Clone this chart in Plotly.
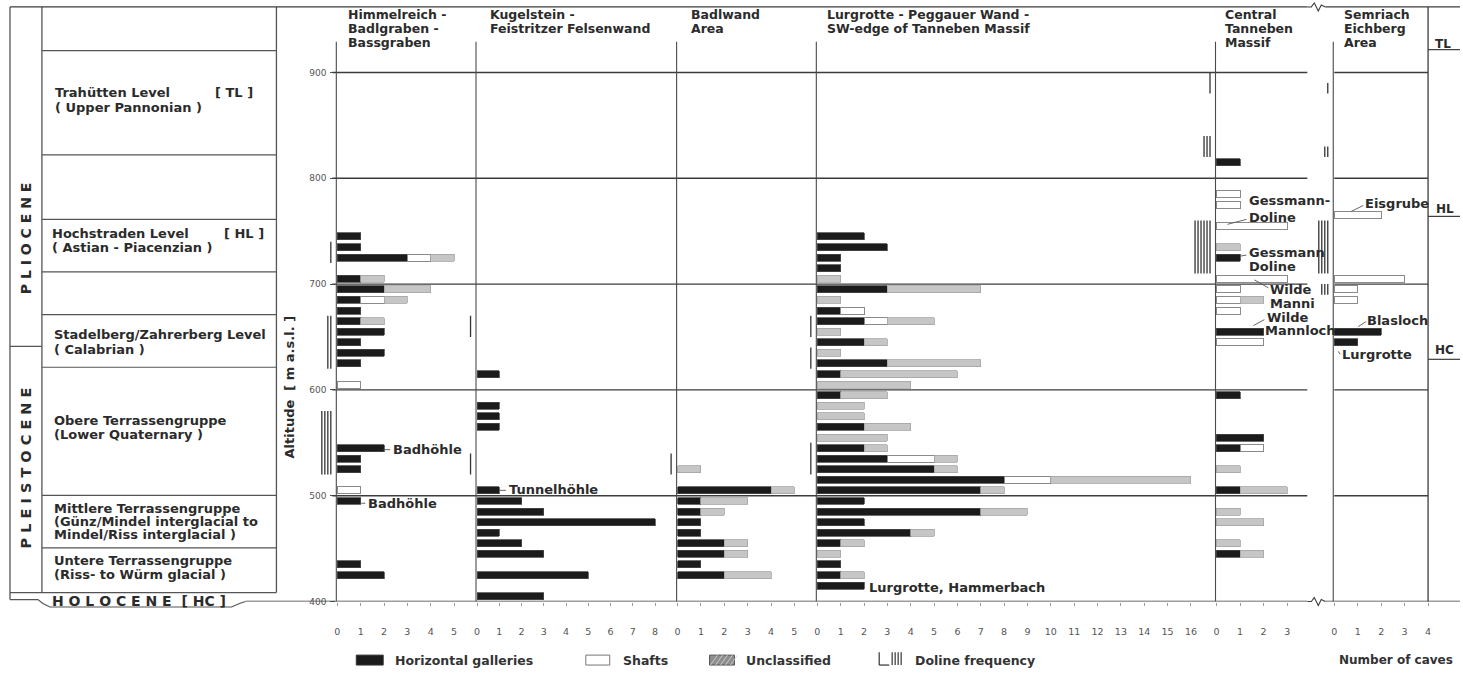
import plotly.graph_objects as go

W, H = 1463, 676

# ---------------- data (altitude bins in m a.s.l., numbers of caves) ----------------
alt_ticks = [400, 500, 600, 700, 800, 900]

himmel_alt = [745, 735, 725, 705, 695, 685, 675, 665, 655, 645, 635, 625, 605, 545, 535, 525, 505, 495, 435, 425]
himmel_hor = [1, 1, 3, 1, 2, 1, 1, 1, 2, 1, 2, 1, 0, 2, 1, 1, 0, 1, 1, 2]
himmel_sha = [0, 0, 1, 0, 0, 1, 0, 0, 0, 0, 0, 0, 1, 0, 0, 0, 1, 0, 0, 0]
himmel_unc = [0, 0, 1, 1, 2, 1, 0, 1, 0, 0, 0, 0, 0, 0, 0, 0, 0, 0, 0, 0]
himmel_dol_top = [740, 670, 580]
himmel_dol_bot = [720, 620, 520]
himmel_dol_n = [1, 2, 4]

kugel_alt = [615, 585, 575, 565, 505, 495, 485, 475, 465, 455, 445, 425, 405]
kugel_hor = [1, 1, 1, 1, 1, 2, 3, 8, 1, 2, 3, 5, 3]
kugel_sha = [0, 0, 0, 0, 0, 0, 0, 0, 0, 0, 0, 0, 0]
kugel_unc = [0, 0, 0, 0, 0, 0, 0, 0, 0, 0, 0, 0, 0]
kugel_dol_top = [670, 540]
kugel_dol_bot = [650, 520]
kugel_dol_n = [1, 1]

badl_alt = [525, 505, 495, 485, 475, 465, 455, 445, 435, 425]
badl_hor = [0, 4, 1, 1, 1, 1, 2, 2, 1, 2]
badl_sha = [0, 0, 0, 0, 0, 0, 0, 0, 0, 0]
badl_unc = [1, 1, 2, 1, 0, 0, 1, 1, 0, 2]
badl_dol_top = [540]
badl_dol_bot = [520]
badl_dol_n = [1]

lur_alt = [745, 735, 725, 715, 705, 695, 685, 675, 665, 655, 645, 635, 625, 615, 605, 595, 585,
           575, 565, 555, 545, 535, 525, 515, 505, 495, 485, 475, 465, 455, 445, 435, 425, 415]
lur_hor = [2, 3, 1, 1, 0, 3, 0, 1, 2, 0, 2, 0, 3, 1, 0, 1, 0,
           0, 2, 0, 2, 3, 5, 8, 7, 2, 7, 2, 4, 1, 0, 1, 1, 2]
lur_sha = [0, 0, 0, 0, 0, 0, 0, 1, 1, 0, 0, 0, 0, 0, 0, 0, 0,
           0, 0, 0, 0, 2, 0, 2, 0, 0, 0, 0, 0, 0, 0, 0, 0, 0]
lur_unc = [0, 0, 0, 0, 1, 4, 1, 0, 2, 1, 1, 1, 4, 5, 4, 2, 2,
           2, 2, 3, 1, 1, 1, 6, 1, 0, 2, 0, 1, 1, 1, 0, 1, 0]
lur_dol_top = [670, 640, 550]
lur_dol_bot = [650, 620, 520]
lur_dol_n = [1, 1, 1]

cen_alt = [815, 785, 775, 755, 735, 725, 705, 695, 685, 675, 655, 645, 595, 555, 545, 525, 505, 485, 475, 455, 445]
cen_hor = [1, 0, 0, 0, 0, 1, 0, 0, 0, 0, 2, 0, 1, 2, 1, 0, 1, 0, 0, 0, 1]
cen_sha = [0, 1, 1, 3, 0, 0, 3, 1, 1, 1, 0, 2, 0, 0, 1, 0, 0, 0, 0, 0, 0]
cen_unc = [0, 0, 0, 0, 1, 0, 0, 0, 1, 0, 0, 0, 0, 0, 0, 1, 2, 1, 2, 1, 1]
cen_dol_top = [900, 840, 760]
cen_dol_bot = [880, 820, 710]
cen_dol_n = [1, 3, 6]

sem_alt = [765, 705, 695, 685, 655, 645]
sem_hor = [0, 0, 0, 0, 2, 1]
sem_sha = [2, 3, 1, 1, 0, 0]
sem_unc = [0, 0, 0, 0, 0, 0]
sem_dol_top = [890, 830, 760, 700]
sem_dol_bot = [880, 820, 710, 690]
sem_dol_n = [1, 2, 4, 3]

panel_titles = [
    ["Himmelreich -", "Badlgraben -", "Bassgraben"],
    ["Kugelstein -", "Feistritzer Felsenwand"],
    ["Badlwand", "Area"],
    ["Lurgrotte - Peggauer Wand -", "SW-edge of Tanneben Massif"],
    ["Central", "Tanneben", "Massif"],
    ["Semriach", "Eichberg", "Area"],
]
panel_tick_max = [5, 8, 5, 16, 3, 4]

panels = [
    (himmel_alt, himmel_hor, himmel_sha, himmel_unc, himmel_dol_top, himmel_dol_bot, himmel_dol_n),
    (kugel_alt, kugel_hor, kugel_sha, kugel_unc, kugel_dol_top, kugel_dol_bot, kugel_dol_n),
    (badl_alt, badl_hor, badl_sha, badl_unc, badl_dol_top, badl_dol_bot, badl_dol_n),
    (lur_alt, lur_hor, lur_sha, lur_unc, lur_dol_top, lur_dol_bot, lur_dol_n),
    (cen_alt, cen_hor, cen_sha, cen_unc, cen_dol_top, cen_dol_bot, cen_dol_n),
    (sem_alt, sem_hor, sem_sha, sem_unc, sem_dol_top, sem_dol_bot, sem_dol_n),
]

# ---------------- layout geometry (pixels) ----------------
ZERO_PX = [338, 478, 679, 819, 1219, 1337]
UNIT_PX = [23.4, 22.3, 23.4, 23.4, 23.6, 23.5]
X_LO = [-1.0, -0.6, -0.6, -0.6, -1.0, -0.9]
X_HI = [6.0, 9.0, 6.0, 17.09, 4.2, 4.0]
PY_400 = 606.0
PX_PER_M = 1.066
PY_TOP = 8.0
ALT_TOP = 400 + (PY_400 - PY_TOP) / PX_PER_M

FONT = "DejaVu Sans"
INK = "#2b2b2b"
LINE = "#3c3c3c"


def xp(px):
    return px / W


def yp(py):
    return 1 - py / H


def alt_of(py):
    return 400 + (PY_400 - py) / PX_PER_M


fig = go.Figure()

# ---------------- bars and doline marks ----------------
for i, (alt, hor, sha, unc, dtop, dbot, dn) in enumerate(panels):
    xa = "x" if i == 0 else f"x{i + 1}"
    series = [
        (hor, dict(color="#1b1b1b", line=dict(color="#4a4a4a", width=0.8))),
        (sha, dict(color="#ffffff", line=dict(color="#8a8a8a", width=1.0))),
        (unc, dict(color="#c6c6c6", line=dict(color="#a4a4a4", width=0.8))),
    ]
    for vals, mk in series:
        xs = [v for v in vals if v > 0]
        ys = [a for a, v in zip(alt, vals) if v > 0]
        if not xs:
            continue
        fig.add_trace(go.Bar(x=xs, y=ys, orientation="h", xaxis=xa, yaxis="y",
                             width=6.6, marker=mk, showlegend=False, hoverinfo="skip"))
    # doline frequency marks (vertical strokes left of the zero line)
    dx, dy = [], []
    for t, b, n in zip(dtop, dbot, dn):
        for j in range(n):
            xv = -(6.5 + 3.0 * j) / UNIT_PX[i]
            dx += [xv, xv, None]
            dy += [t, b, None]
    fig.add_trace(go.Scatter(x=dx, y=dy, mode="lines", xaxis=xa, yaxis="y",
                             line=dict(color="#333333", width=1.3),
                             showlegend=False, hoverinfo="skip"))

layout = dict(
    width=W, height=H,
    margin=dict(l=0, r=0, t=0, b=0),
    paper_bgcolor="white", plot_bgcolor="rgba(0,0,0,0)",
    barmode="stack", bargap=0,
    hovermode=False,
    showlegend=False,
    font=dict(family=FONT, color=INK),
)

for i in range(6):
    key = "xaxis" if i == 0 else f"xaxis{i + 1}"
    d0 = ZERO_PX[i] + X_LO[i] * UNIT_PX[i]
    d1 = ZERO_PX[i] + X_HI[i] * UNIT_PX[i]
    layout[key] = dict(
        domain=[xp(d0), xp(d1)], range=[X_LO[i], X_HI[i]], anchor="y",
        tickvals=list(range(0, panel_tick_max[i] + 1)),
        ticks="outside", ticklen=3, tickcolor="#999", tickwidth=1,
        showline=False, showgrid=False, zeroline=False,
        tickfont=dict(size=9.5, color="#555", family=FONT),
        ticklabelstandoff=18, fixedrange=True,
    )

layout["yaxis"] = dict(
    domain=[yp(PY_400), yp(PY_TOP)], range=[400, ALT_TOP], anchor="free",
    position=xp(336), tickvals=alt_ticks, ticks="outside", ticklen=5,
    tickcolor="#555", showline=False, showgrid=False, zeroline=False,
    tickfont=dict(size=9, color="#555", family=FONT), ticklabelstandoff=2,
    fixedrange=True,
)
for i in range(6):
    layout[f"yaxis{i + 2}"] = dict(
        domain=[yp(PY_400), yp(PY_TOP)], range=[400, ALT_TOP], overlaying="y",
        anchor="free", position=xp(ZERO_PX[i] - 1), side="left",
        tickvals=list(range(410, 930, 10)), ticks="outside", ticklen=3,
        tickcolor="#b0b0b0", showticklabels=False, showline=False,
        showgrid=False, zeroline=False, fixedrange=True,
    )

# ---------------- frame / table shapes ----------------
shapes = []


def pline(x0, y0, x1, y1, color=LINE, width=1.3):
    shapes.append(dict(type="line", xref="paper", yref="paper",
                       x0=xp(x0), y0=yp(y0), x1=xp(x1), y1=yp(y1),
                       line=dict(color=color, width=width)))


def aline(x0, x1, alt, color=LINE, width=1.4):
    shapes.append(dict(type="line", xref="paper", yref="y",
                       x0=xp(x0), x1=xp(x1), y0=alt, y1=alt,
                       line=dict(color=color, width=width)))


def vline_alt(x, a0, a1, color=LINE, width=1.3):
    shapes.append(dict(type="line", xref="paper", yref="y",
                       x0=xp(x), x1=xp(x), y0=a0, y1=a1,
                       line=dict(color=color, width=width)))


def ppath(points, color=LINE, width=1.3):
    d = "M " + " L ".join(f"{xp(x):.5f},{yp(y):.5f}" for x, y in points)
    shapes.append(dict(type="path", xref="paper", yref="paper", path=d,
                       line=dict(color=color, width=width)))


TABLE = "#555555"
# outer frame + table
pline(10, 7, 10, 604, TABLE)
pline(42, 7, 42, 597, TABLE)
pline(277, 7, 277, 597, TABLE)
for yy in [51, 156, 221, 274, 317, 370, 499, 552]:
    pline(42, yy, 277, yy, TABLE, 1.2)
pline(10, 349, 42, 349, TABLE, 1.2)
pline(10, 597, 277, 597, TABLE, 1.2)
# holocene banner
ppath([(10, 604), (38, 604), (43, 608), (50, 611.5), (232, 611.5), (240, 608), (246, 606)], TABLE, 1.2)
# top border with break
pline(10, 7, 1310, 7, LINE, 1.3)
pline(1328, 7, 1463, 7, LINE, 1.3)
ppath([(1310, 7), (1314, 7), (1317, 3), (1321, 11), (1324, 5), (1328, 7)], LINE, 1.1)
# altitude grid lines
for a in alt_ticks[1:]:
    aline(333, 1310, a)
    aline(1337, 1431, a)
aline(246, 1310, 400)
aline(1328, 1463, 400)
ppath([(1310, 606), (1314, 606), (1317, 602), (1321, 610), (1324, 604), (1328, 606)], LINE, 1.1)
# zero lines of each panel
for z in ZERO_PX:
    vline_alt(z - 1, 400, alt_of(42), "#4a4a4a", 1.1)
# right column
pline(1431, 7, 1431, 606, LINE, 1.3)
for yy in [50, 218, 362]:
    pline(1431, yy, 1463, yy, LINE, 1.2)

# label pointers
pointer_lines = [
    (384, 453, 391, 453), (362, 507, 366, 507), (500, 494, 507, 494),
    (1249, 221, 1230, 226), (1249, 257, 1243, 258),
    (1271, 290, 1257, 282), (1267, 322, 1256, 328),
    (1366, 207, 1354, 213), (1369, 324, 1361, 329), (1341, 354, 1343, 357),
]
for x0, y0, x1, y1 in pointer_lines:
    pline(x0, y0, x1, y1, "#555", 0.9)

# ---------------- legend (manual) ----------------
LY0, LY1 = 660, 670
shapes.append(dict(type="rect", xref="paper", yref="paper", x0=xp(357), x1=xp(384),
                   y0=yp(LY1), y1=yp(LY0), fillcolor="#1b1b1b", line=dict(color="#333", width=1)))
shapes.append(dict(type="rect", xref="paper", yref="paper", x0=xp(587), x1=xp(611),
                   y0=yp(LY1), y1=yp(LY0), fillcolor="white", line=dict(color="#777", width=1)))
shapes.append(dict(type="rect", xref="paper", yref="paper", x0=xp(711), x1=xp(736),
                   y0=yp(LY1), y1=yp(LY0), fillcolor="#8e8e8e", line=dict(color="#555", width=1)))
for k in range(5):
    x0 = 712 + k * 5
    pline(x0, LY1, x0 + 7, LY0, "#d8d8d8", 0.8)
pline(881, 657, 881, 670, "#333", 1.2)
pline(881, 670, 891, 670, "#333", 1.2)
for k in range(4):
    pline(894 + k * 3, 657, 894 + k * 3, 670, "#333", 1.2)

layout["shapes"] = shapes

# ---------------- annotations ----------------
anns = []


def txt(text, x, y, size=12.5, bold=True, color=INK, xanchor="left", angle=0):
    anns.append(dict(text=text, x=xp(x), y=yp(y), xref="paper", yref="paper",
                     xanchor=xanchor, yanchor="middle", showarrow=False, textangle=angle,
                     font=dict(family=FONT, size=size, color=color,
                               weight="bold" if bold else "normal")))


table_text = [
    ("Trahütten Level", 53, 93), ("[ TL ]", 213, 93), ("( Upper Pannonian )", 53, 108),
    ("Hochstraden Level", 50, 235), ("[ HL ]", 222, 235), ("( Astian - Piacenzian )", 50, 249),
    ("Stadelberg/Zahrerberg Level", 52, 337), ("( Calabrian )", 52, 352),
    ("Obere Terrassengruppe", 52, 424), ("(Lower Quaternary )", 52, 438),
    ("Mittlere Terrassengruppe", 52, 512), ("(Günz/Mindel interglacial to", 52, 525),
    ("Mindel/Riss interglacial )", 52, 538),
    ("Untere Terrassengruppe", 52, 565), ("(Riss- to Würm glacial )", 52, 579),
]
for t, x, y in table_text:
    txt(t, x, y, 13)
txt("H O L O C E N E  [ HC ]", 50, 605, 14)

txt("P L I O C E N E", 26, 240, 14, angle=-90, xanchor="center")
txt("P L E I S T O C E N E", 26, 471, 14.5, angle=-90, xanchor="center")
txt("Altitude  [ m a.s.l. ]", 290, 390, 13, angle=-90, xanchor="center")

title_x = [347, 489, 690, 827, 1226, 1345]
for lines_, x in zip(panel_titles, title_x):
    for k, line_ in enumerate(lines_):
        txt(line_, x, 15 + 14 * k, 12.5)

txt("TL", 1436, 44, 12)
txt("HL", 1437, 211, 12)
txt("HC", 1436, 353, 12)

cave_labels = [
    ("Badhöhle", 392, 453), ("Badhöhle", 367, 507), ("Tunnelhöhle", 508, 493),
    ("Lurgrotte, Hammerbach", 869, 592),
    ("Gessmann-", 1250, 202), ("Doline", 1250, 219), ("Gessmann", 1250, 254), ("Doline", 1250, 268),
    ("Wilde", 1271, 292), ("Manni", 1271, 306), ("Wilde", 1268, 320), ("Mannloch", 1266, 333),
    ("Eisgrube", 1366, 205), ("Blasloch", 1368, 323), ("Lurgrotte", 1343, 357),
]
for t, x, y in cave_labels:
    txt(t, x, y, 13)

txt("Horizontal galleries", 394, 665, 12.5, color="#333")
txt("Shafts", 622, 665, 12.5, color="#333")
txt("Unclassified", 746, 665, 12.5, color="#333")
txt("Doline frequency", 915, 665, 12.5, color="#333")
txt("Number of caves", 1340, 665, 12, color="#333")

layout["annotations"] = anns
fig.update_layout(**layout)
fig.write_html("out.html", config={"displayModeBar": False, "staticPlot": True},
               post_script="document.body.style.margin='0';document.body.style.padding='0';"
                           "document.documentElement.style.overflow='hidden';")
